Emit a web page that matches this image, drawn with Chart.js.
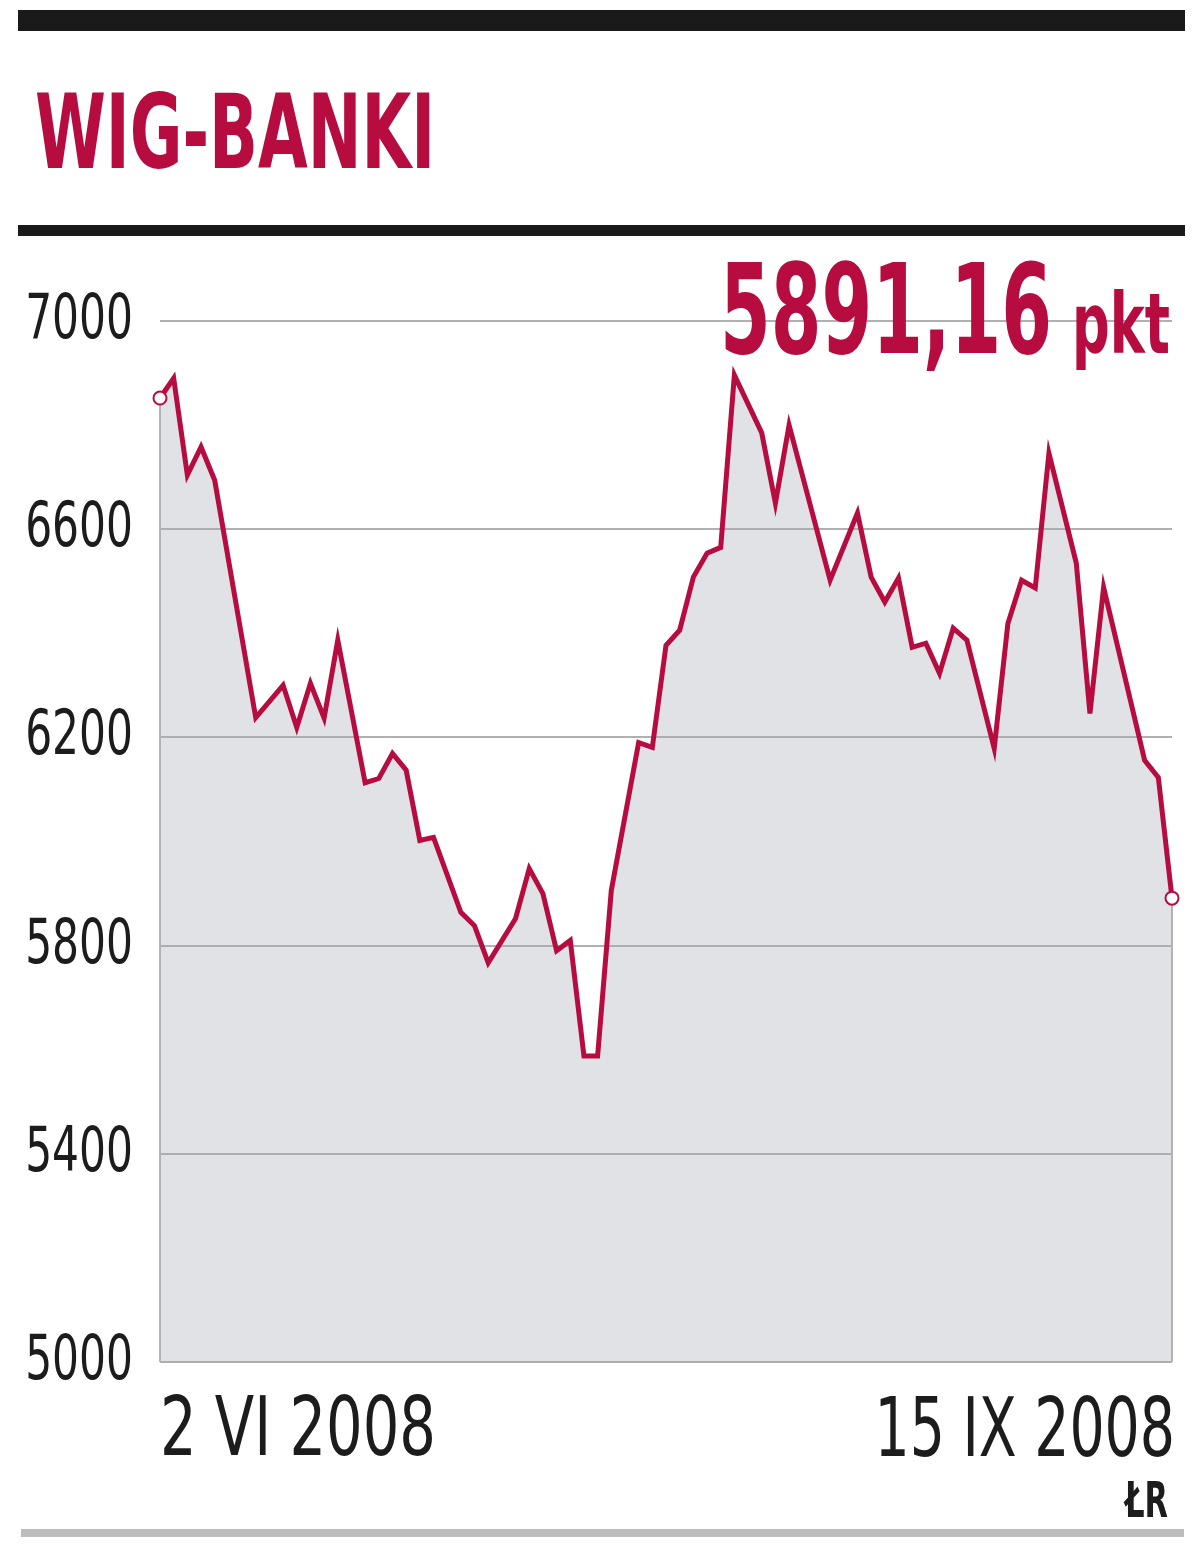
<!DOCTYPE html>
<html>
<head>
<meta charset="utf-8">
<script src="https://cdn.jsdelivr.net/npm/chart.js@4"></script>
<style>
  html, body { margin: 0; padding: 0; background: #fff; }
  canvas { display: block; }
</style>
</head>
<body>
<canvas id="chart" width="1200" height="1554"></canvas>
<script>
// WIG-BANKI, daily close, trading day index from 2 VI 2008 (0) to 15 IX 2008 (74)
var days = [0, 1, 2, 3, 4, 7, 9, 10, 11, 12, 13, 15, 16, 17, 18, 19, 20, 22, 23, 24,
            26, 27, 28, 29, 30, 31, 32, 33, 35, 36, 37, 38, 39, 40, 41, 42, 44, 45, 46, 49,
            51, 52, 53, 54, 55, 56, 57, 58, 59, 61, 62, 63, 64, 65, 67, 68, 69, 72, 73, 74];
var values = [6852, 6890, 6704, 6758, 6694, 6238, 6300, 6219, 6304, 6237, 6387, 6113, 6121, 6169, 6137, 6002, 6008, 5864, 5838, 5767,
              5852, 5948, 5900, 5790, 5810, 5588, 5588, 5906, 6190, 6181, 6377, 6406, 6508, 6554, 6565, 6896, 6785, 6650, 6800, 6502,
              6631, 6508, 6460, 6506, 6373, 6381, 6323, 6410, 6387, 6179, 6419, 6502, 6487, 6746, 6535, 6246, 6488, 6156, 6123, 5891.16];
var xTickLabels = ["2 VI 2008", "15 IX 2008"];
var yMin = 5000, yMax = 7000, yStep = 400;
var title = "WIG-BANKI";
var lastValue = "5891,16";
var unit = "pkt";
var credit = "ŁR";

var RED = "#b70c3f";
var TEXT = "#1c1c1c";
var FONT = "'DejaVu Sans Condensed', 'Liberation Sans Narrow', 'DejaVu Sans', sans-serif";

// draw text squeezed/stretched to a given width
function fitText(ctx, text, x, y, width, font, color) {
    ctx.save();
    ctx.font = font;
    ctx.fillStyle = color;
    ctx.textAlign = "left";
    ctx.textBaseline = "alphabetic";
    var w = ctx.measureText(text).width;
    ctx.translate(x, y);
    ctx.scale(width / w, 1);
    ctx.fillText(text, 0, 0);
    ctx.restore();
}

// draw text with a fixed horizontal squeeze, anchored left or right
function narrowText(ctx, text, x, y, sx, font, color, align) {
    ctx.save();
    ctx.font = font;
    ctx.fillStyle = color;
    ctx.textAlign = align;
    ctx.textBaseline = "alphabetic";
    ctx.translate(x, y);
    ctx.scale(sx, 1);
    ctx.fillText(text, 0, 0);
    ctx.restore();
}

var decor = {
    id: "decor",
    beforeDatasetsDraw: function (chart) {
        // grey outline on the sides of the filled area
        var ctx = chart.ctx, x = chart.scales.x, y = chart.scales.y;
        var last = values.length - 1;
        ctx.save();
        ctx.strokeStyle = "#b4b4b4";
        ctx.lineWidth = 2;
        ctx.beginPath();
        ctx.moveTo(x.getPixelForValue(days[0]), y.getPixelForValue(values[0]));
        ctx.lineTo(x.getPixelForValue(days[0]), y.getPixelForValue(yMin));
        ctx.moveTo(x.getPixelForValue(days[last]), y.getPixelForValue(values[last]));
        ctx.lineTo(x.getPixelForValue(days[last]), y.getPixelForValue(yMin));
        ctx.stroke();
        ctx.restore();
    },
    afterDraw: function (chart) {
        var ctx = chart.ctx, x = chart.scales.x, y = chart.scales.y;
        var last = values.length - 1;
        ctx.save();
        ctx.fillStyle = "#1a1a1a";
        ctx.fillRect(18, 10, 1167, 21);
        ctx.fillRect(18, 225, 1167, 11);
        ctx.fillStyle = "#bdbdbd";
        ctx.fillRect(21, 1529, 1163, 8);
        ctx.restore();

        // y axis labels, narrow type
        y.ticks.forEach(function (t) {
            narrowText(ctx, String(t.value), 133, y.getPixelForValue(t.value) + 17, 0.76,
                       "62px " + FONT, TEXT, "right");
        });
        // first and last date under the plot
        narrowText(ctx, xTickLabels[0], x.getPixelForValue(days[0]), 1455, 0.78, "82px " + FONT, TEXT, "left");
        narrowText(ctx, xTickLabels[1], x.getPixelForValue(days[last]) + 3, 1456, 0.75, "82px " + FONT, TEXT, "right");

        fitText(ctx, title, 35, 168, 400, "bold 104px " + FONT, RED);
        fitText(ctx, lastValue, 720, 353, 332, "bold 125px " + FONT, RED);
        fitText(ctx, unit, 1072, 353, 98, "bold 84px " + FONT, RED);
        fitText(ctx, credit, 1125, 1517, 43, "bold 50px " + FONT, TEXT);
    }
};

var ctx = document.getElementById("chart").getContext("2d");
var last = values.length - 1;

new Chart(ctx, {
    type: "line",
    data: {
        datasets: [{
            data: days.map(function (d, i) { return { x: d, y: values[i] }; }),
            borderColor: RED,
            borderWidth: 5,
            backgroundColor: "rgba(170, 173, 180, 0.35)",
            fill: "start",
            tension: 0,
            clip: false,
            pointRadius: function (c) { return (c.dataIndex === 0 || c.dataIndex === last) ? 6.5 : 0; },
            pointBackgroundColor: "#fff",
            pointBorderColor: RED,
            pointBorderWidth: 2
        }]
    },
    options: {
        responsive: false,
        animation: false,
        layout: { padding: { top: 321, right: 28, bottom: 192, left: 0 } },
        plugins: {
            legend: { display: false },
            tooltip: { enabled: false }
        },
        scales: {
            x: {
                type: "linear",
                min: days[0],
                max: days[last],
                display: false
            },
            y: {
                min: yMin,
                max: yMax,
                ticks: {
                    stepSize: yStep,
                    display: false
                },
                grid: { color: "#b0b0b0", lineWidth: 2, drawTicks: false },
                border: { display: false },
                afterFit: function (s) { s.width = 160; }
            }
        }
    },
    plugins: [decor]
});
</script>
</body>
</html>
